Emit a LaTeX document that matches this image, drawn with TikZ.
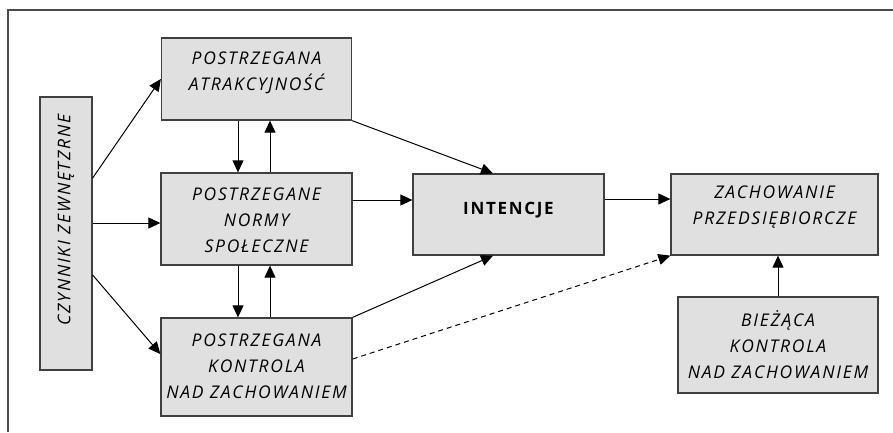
\documentclass[tikz,border=0pt]{standalone}
\usepackage{fontspec}
\setmainfont{Open Sans}
\newfontfamily\boxfont[LetterSpace=10]{Open Sans}
\usetikzlibrary{arrows.meta,calc}
\begin{document}
\begin{tikzpicture}[x=1pt,y=-1pt,
  boxst/.style={draw=black!75,line width=1.3pt,fill=black!12,inner sep=0pt},
  txt/.style={align=center,font=\boxfont\itshape\fontsize{17.5}{26}\selectfont,inner sep=0pt},
  conn/.style={line width=1pt,-{Triangle[length=12pt,width=11pt]}},
  frame/.style={draw=black!70,line width=1.5pt}]
\useasboundingbox (0,0) rectangle (893,432);
\coordinate (f1) at (8,432);
\coordinate (f2) at (8,10);
\coordinate (f3) at (893,10);
\draw[frame] (f1) -- (f2) -- (f3);

\node[boxst,minimum width=190pt,minimum height=82pt] (atr) at (256.5,79) {};
\node[boxst,minimum width=52pt,minimum height=273pt] (czy) at (66,233.5) {};
\node[boxst,minimum width=191pt,minimum height=92pt] (norm) at (256.5,219) {};
\node[boxst,minimum width=191pt,minimum height=98pt] (kont) at (256.5,367) {};
\node[boxst,minimum width=191pt,minimum height=81pt] (int) at (508.5,214.5) {};
\node[boxst,minimum width=207pt,minimum height=81pt] (zach) at (774.5,214.5) {};
\node[boxst,minimum width=200pt,minimum height=96pt] (biez) at (778,345) {};

\node[txt] (tatr) at (256.5,73) {POSTRZEGANA\\ATRAKCYJNOŚĆ};
\node[txt,rotate=90] (tczy) at (66,220) {CZYNNIKI ZEWNĘTZRNE};
\node[txt] (tnorm) at (256.5,220) {POSTRZEGANE\\NORMY\\SPOŁECZNE};
\node[txt] (tkont) at (256.5,366) {POSTRZEGANA\\KONTROLA\\NAD ZACHOWANIEM};
\node[align=center,inner sep=0pt,font=\boxfont\bfseries\fontsize{17}{26}\selectfont] (tint) at (508.5,210) {INTENCJE};
\node[txt] (tzach) at (774.5,207) {ZACHOWANIE\\PRZEDSIĘBIORCZE};
\node[txt] (tbiez) at (778,345) {BIEŻĄCA\\KONTROLA\\NAD ZACHOWANIEM};

\draw[conn] ([yshift=55.5pt]czy.east) -- (atr.west);
\draw[conn] ([yshift=10.5pt]czy.east) -- ([yshift=-4pt]norm.west);
\draw[conn] ([yshift=-41.5pt]czy.east) -- ([yshift=13pt]kont.west);

\draw[conn] ([xshift=-18.5pt]atr.south) -- ([xshift=-18.5pt]norm.north);
\draw[conn] ([xshift=13.5pt]norm.north) -- ([xshift=13.5pt]atr.south);
\draw[conn] ([xshift=-18.5pt]norm.south) -- ([xshift=-18.5pt]kont.north);
\draw[conn] ([xshift=13.5pt]kont.north) -- ([xshift=13.5pt]norm.south);

\draw[conn] (atr.south east) -- ([xshift=-15.5pt]int.north);
\draw[conn] ([yshift=19pt]norm.east) -- ([yshift=14.5pt]int.west);
\draw[conn] (kont.north east) -- ([xshift=-15.5pt]int.south);
\draw[conn,dash pattern=on 5pt off 4pt] ([yshift=8pt]kont.east) -- (zach.south west);
\draw[conn] ([yshift=15.5pt]int.east) -- ([yshift=15.5pt]zach.west);
\draw[conn] (biez.north) -- (biez.north |- zach.south);
\end{tikzpicture}
\end{document}
